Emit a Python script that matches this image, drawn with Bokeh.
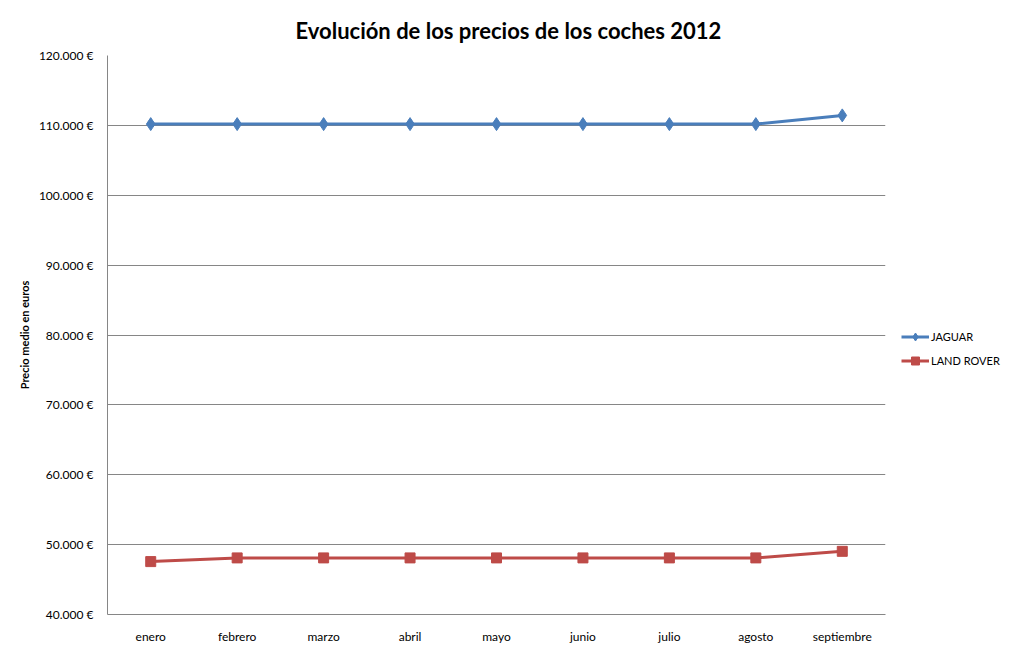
from bokeh.plotting import figure
from bokeh.models import FixedTicker, Legend, LegendItem, Range1d, FactorRange
from bokeh.embed import file_html
from bokeh.resources import INLINE

months = ["enero", "febrero", "marzo", "abril", "mayo", "junio", "julio", "agosto", "septiembre"]
jaguar = [110180, 110180, 110180, 110180, 110180, 110180, 110180, 110180, 111430]
land_rover = [47570, 48100, 48100, 48100, 48100, 48100, 48100, 48100, 49040]
y_ticks = [40000, 50000, 60000, 70000, 80000, 90000, 100000, 110000, 120000]
y_tick_labels = ["40.000 €", "50.000 €", "60.000 €", "70.000 €", "80.000 €",
                 "90.000 €", "100.000 €", "110.000 €", "120.000 €"]
title_text = "Evolución de los precios de los coches 2012"

FONT = "Lato"
GRID = "#868686"

p = figure(frame_width=778, frame_height=559, x_range=FactorRange(factors=months),
           y_range=Range1d(40000, 120000), output_backend="svg",
           toolbar_location=None, min_border_left=107, min_border_right=0,
           min_border_top=55, min_border_bottom=41)

p.title.text = title_text
p.title.align = "left"
p.title.offset = 188
p.title.text_font = FONT
p.title.text_font_size = "22px"
p.title.text_font_style = "bold"
p.title.text_color = "#000000"
p.title.standoff = 24

p.outline_line_color = None
p.background_fill_color = "white"
p.border_fill_color = "white"

p.xgrid.grid_line_color = None
p.ygrid.grid_line_color = GRID
p.ygrid.grid_line_width = 1

p.yaxis.ticker = FixedTicker(ticks=y_ticks)
p.yaxis.major_label_overrides = {t: l for t, l in zip(y_ticks, y_tick_labels)}
for ax in (p.xaxis, p.yaxis):
    ax.axis_line_color = GRID
    ax.major_tick_line_color = None
    ax.minor_tick_line_color = None
    ax.major_label_text_font = FONT
    ax.major_label_text_font_size = "12px"
    ax.major_label_text_color = "#000000"
p.yaxis.major_label_standoff = 8
p.xaxis.major_label_standoff = 8
p.yaxis.axis_label = "Precio medio en euros"
p.yaxis.axis_label_text_font = FONT
p.yaxis.axis_label_text_font_size = "11px"
p.yaxis.axis_label_text_font_style = "bold"
p.yaxis.axis_label_text_color = "#000000"
p.yaxis.axis_label_standoff = 5

BLUE = "#4A7EBB"
RED = "#BE4B48"
l1 = p.line(months, jaguar, line_color=BLUE, line_width=3)
m1 = p.scatter(months, jaguar, marker="diamond", size=13, fill_color=BLUE, line_color=BLUE)
l2 = p.line(months, land_rover, line_color=RED, line_width=3)
m2 = p.scatter(months, land_rover, marker="square", size=10, fill_color=RED, line_color=RED)

legend = Legend(items=[LegendItem(label="JAGUAR", renderers=[l1, m1]),
                       LegendItem(label="LAND ROVER", renderers=[l2, m2])],
                location="left")
legend.title = " "
legend.title_text_font_size = "11px"
legend.title_standoff = 15
legend.label_text_font = FONT
legend.label_text_font_size = "11px"
legend.label_text_color = "#000000"
legend.border_line_color = None
legend.background_fill_alpha = 0
legend.glyph_width = 28
legend.label_standoff = 2
legend.spacing = 4
legend.padding = 4
legend.margin = 16
p.add_layout(legend, "right")

open("out.html", "w").write(file_html(p, INLINE))
